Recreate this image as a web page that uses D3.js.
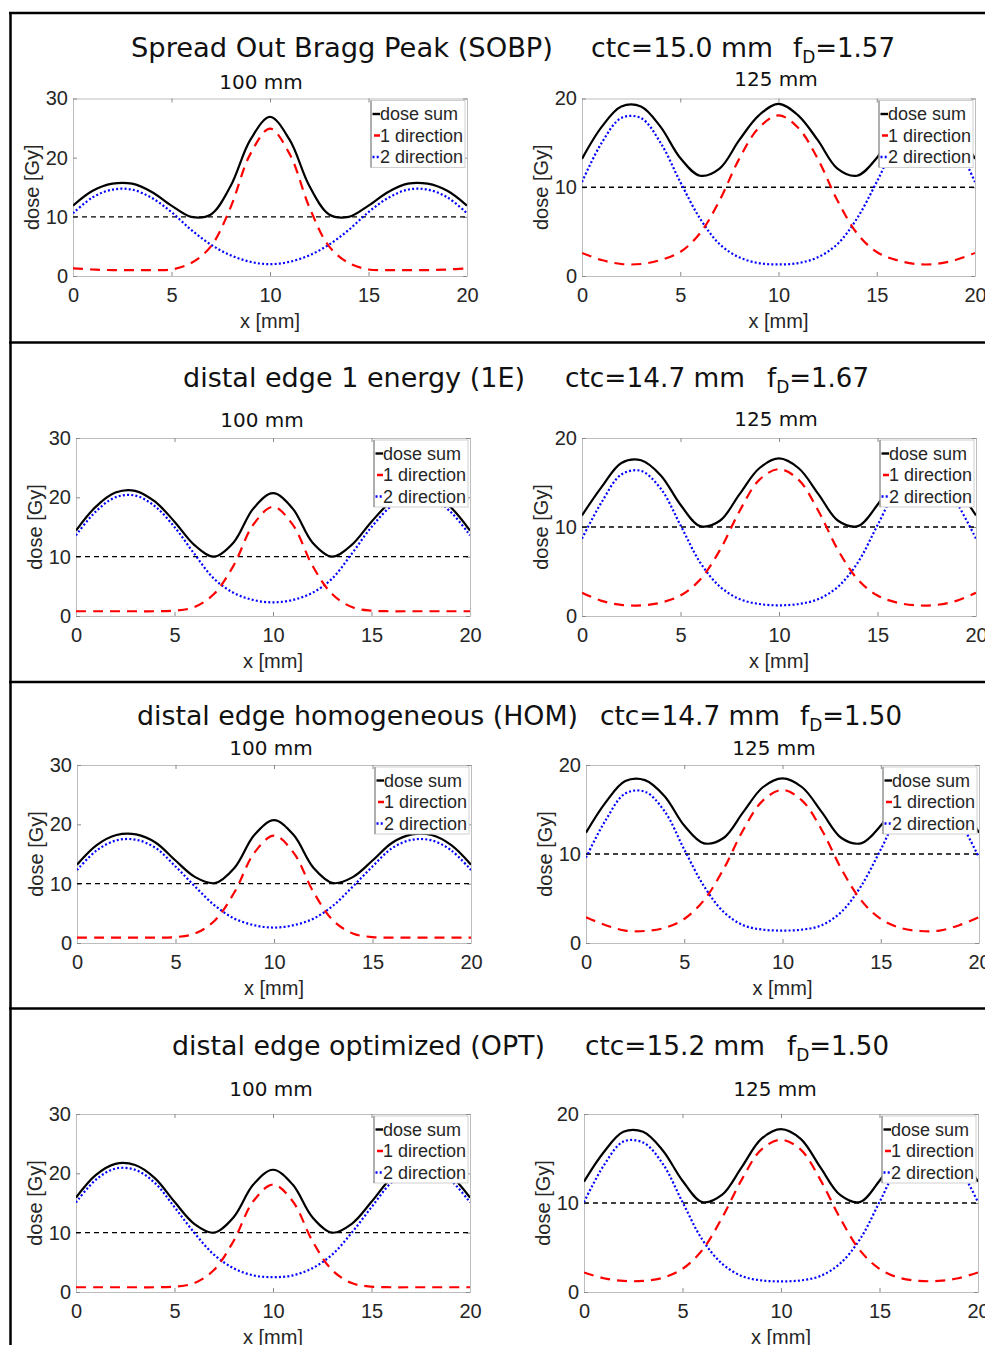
<!DOCTYPE html>
<html>
<head>
<meta charset="utf-8">
<script src="https://cdn.jsdelivr.net/npm/d3@7"></script>
<style>
body { margin: 0; background: #fff; }
svg text { font-family: "Liberation Sans", Arial, sans-serif; fill: #262626; }
svg text.ttl { font-family: "DejaVu Sans", Verdana, sans-serif; fill: #111; }
</style>
</head>
<body>
<svg id="fig" width="985" height="1345"></svg>
<script>
// x positions (mm) where the profiles were read
var xPos = [0,1,2,3,4,5,6,7,8,9,10,11,12,13,14,15,16,17,18,19,20]
var xTicks = [0,5,10,15,20]
var yTicks100 = [0,10,20,30]
var yTicks125 = [0,10,20]
var refDose = 10

var titles = ["Spread Out Bragg Peak (SOBP)", "distal edge 1 energy (1E)", "distal edge homogeneous (HOM)", "distal edge optimized (OPT)"]
var ctcValues = ["15.0", "14.7", "14.7", "15.2"]
var fdValues = ["1.57", "1.67", "1.50", "1.50"]
var depthLabels = ["100 mm", "125 mm"]
var legendLabels = ["dose sum", "1 direction", "2 direction"]

// SOBP
var sobp100Sum  = [11.9,14.4,15.6,15.6,14.2,11.9,10.0,10.4,15.2,23.0,26.9,23.0,15.2,10.4,10.0,11.9,14.2,15.6,15.6,14.4,11.9]
var sobp100Dir1 = [1.3,1.1,1.0,1.0,1.0,1.1,2.2,5.0,11.6,20.6,24.9,20.6,11.6,5.0,2.2,1.1,1.0,1.0,1.0,1.1,1.3]
var sobp100Dir2 = [10.6,13.3,14.6,14.6,13.2,10.8,7.8,5.3,3.5,2.4,2.0,2.4,3.5,5.3,7.8,10.8,13.2,14.6,14.6,13.3,10.6]
var sobp125Sum  = [13.2,16.8,19.1,19.1,16.8,13.3,11.3,12.1,15.3,18.1,19.4,18.1,15.3,12.1,11.3,13.3,16.8,19.1,19.1,16.8,13.2]
var sobp125Dir1 = [2.6,1.8,1.35,1.35,1.8,2.7,4.8,8.5,13.2,16.7,18.1,16.7,13.2,8.5,4.8,2.7,1.8,1.35,1.35,1.8,2.6]
var sobp125Dir2 = [10.6,15.0,17.8,17.8,15.0,10.6,6.5,3.6,2.1,1.45,1.3,1.45,2.1,3.6,6.5,10.6,15.0,17.8,17.8,15.0,10.6]
// 1E
var e1100Sum  = [14.4,18.4,20.8,21.1,19.3,15.9,12.0,10.0,12.4,18.1,20.7,18.1,12.4,10.0,12.0,15.9,19.3,21.1,20.8,18.4,14.4]
var e1100Dir1 = [0.8,0.8,0.8,0.8,0.8,0.9,1.5,3.7,8.5,15.4,18.4,15.4,8.5,3.7,1.5,0.9,0.8,0.8,0.8,0.8,0.8]
var e1100Dir2 = [13.6,17.6,20.0,20.3,18.5,15.0,10.5,6.3,3.9,2.7,2.3,2.7,3.9,6.3,10.5,15.0,18.5,20.3,20.0,17.6,13.6]
var e1125Sum  = [11.3,14.5,17.2,17.5,15.8,12.5,10.1,10.7,13.7,16.6,17.7,16.6,13.7,10.7,10.1,12.5,15.8,17.5,17.2,14.5,11.3]
var e1125Dir1 = [2.6,1.7,1.25,1.2,1.5,2.3,4.1,7.4,11.8,15.3,16.5,15.3,11.8,7.4,4.1,2.3,1.5,1.2,1.25,1.7,2.6]
var e1125Dir2 = [8.7,12.8,15.9,16.3,14.3,10.2,6.0,3.3,1.9,1.35,1.2,1.35,1.9,3.3,6.0,10.2,14.3,16.3,15.9,12.8,8.7]
// HOM
var hom100Sum  = [13.2,16.5,18.2,18.3,16.9,13.9,11.1,10.1,12.7,18.2,20.7,18.2,12.7,10.1,11.1,13.9,16.9,18.3,18.2,16.5,13.2]
var hom100Dir1 = [0.9,0.9,0.9,0.9,0.9,1.0,1.6,3.8,8.6,15.2,18.1,15.2,8.6,3.8,1.6,1.0,0.9,0.9,0.9,0.9,0.9]
var hom100Dir2 = [12.3,15.6,17.3,17.4,16.0,12.9,9.5,6.3,4.1,3.0,2.6,3.0,4.1,6.3,9.5,12.9,16.0,17.4,17.3,15.6,12.3]
var hom125Sum  = [12.4,15.8,18.2,18.3,16.5,13.2,11.2,11.8,14.7,17.5,18.5,17.5,14.7,11.8,11.2,13.2,16.5,18.3,18.2,15.8,12.4]
var hom125Dir1 = [2.9,2.0,1.4,1.35,1.7,2.7,4.8,8.3,12.7,16.0,17.2,16.0,12.7,8.3,4.8,2.7,1.7,1.35,1.4,2.0,2.9]
var hom125Dir2 = [9.6,13.8,16.8,17.0,14.8,10.5,6.4,3.5,2.0,1.5,1.4,1.5,2.0,3.5,6.4,10.5,14.8,17.0,16.8,13.8,9.6]
// OPT
var opt100Sum  = [15.9,19.7,21.6,21.4,19.2,15.2,11.5,10.0,12.6,18.1,20.6,18.1,12.6,10.0,11.5,15.2,19.2,21.4,21.6,19.7,15.9]
var opt100Dir1 = [0.8,0.8,0.8,0.8,0.8,0.9,1.5,3.7,8.6,15.3,18.1,15.3,8.6,3.7,1.5,0.9,0.8,0.8,0.8,0.8,0.8]
var opt100Dir2 = [15.1,18.9,20.8,20.6,18.4,14.3,10.0,6.3,4.0,2.8,2.5,2.8,4.0,6.3,10.0,14.3,18.4,20.6,20.8,18.9,15.1]
var opt125Sum  = [12.4,15.7,18.0,18.0,15.9,12.5,10.1,10.9,14.0,17.2,18.3,17.2,14.0,10.9,10.1,12.5,15.9,18.0,18.0,15.7,12.4]
var opt125Dir1 = [2.2,1.55,1.25,1.25,1.6,2.6,4.7,8.3,12.6,16.0,17.1,16.0,12.6,8.3,4.7,2.6,1.6,1.25,1.25,1.55,2.2]
var opt125Dir2 = [10.1,14.2,16.9,16.8,14.4,10.1,5.9,3.2,1.8,1.3,1.2,1.3,1.8,3.2,5.9,10.1,14.4,16.8,16.9,14.2,10.1]

var panelSeries = [
    [[sobp100Sum, sobp100Dir1, sobp100Dir2], [sobp125Sum, sobp125Dir1, sobp125Dir2]],
    [[e1100Sum, e1100Dir1, e1100Dir2], [e1125Sum, e1125Dir1, e1125Dir2]],
    [[hom100Sum, hom100Dir1, hom100Dir2], [hom125Sum, hom125Dir1, hom125Dir2]],
    [[opt100Sum, opt100Dir1, opt100Dir2], [opt125Sum, opt125Dir1, opt125Dir2]]
]

// layout of each row (pixels)
var rows = [
    {titleY: 57, titleX: [131, 591, 793], titleW: [422, 182], top: 98.5, bottom: 276,
     axes: [{x0: 73, x1: 467, subX: 261, subY: 89}, {x0: 582, x1: 975, subX: 776, subY: 86}]},
    {titleY: 387, titleX: [183, 565, 767], titleW: [342, 180], top: 438, bottom: 616,
     axes: [{x0: 76, x1: 470, subX: 262, subY: 427}, {x0: 582, x1: 976, subX: 776, subY: 426}]},
    {titleY: 725, titleX: [137, 600, 800], titleW: [441, 180], top: 765, bottom: 943,
     axes: [{x0: 77, x1: 471, subX: 271, subY: 755}, {x0: 586, x1: 979, subX: 774, subY: 755}]},
    {titleY: 1055, titleX: [172, 585, 787], titleW: [373, 180], top: 1114, bottom: 1292,
     axes: [{x0: 76, x1: 470, subX: 271, subY: 1096}, {x0: 584, x1: 978, subX: 775, subY: 1096}]}
]
var separators = [13, 342.5, 682, 1008.5]

var svg = d3.select("#fig")
var lineColors = ["#000", "#ff0000", "#0000ff"]
var lineDash = [null, "10,7", "2,2.2"]

// outer frame
separators.forEach(function (y) {
    svg.append("line").attr("x1", 9).attr("x2", 985).attr("y1", y).attr("y2", y)
        .attr("stroke", "#000").attr("stroke-width", 2.5)
})
svg.append("line").attr("x1", 10.5).attr("x2", 10.5).attr("y1", 12).attr("y2", 1345)
    .attr("stroke", "#000").attr("stroke-width", 2.5)

rows.forEach(function (row, r) {
    // row title
    svg.append("text").attr("class", "ttl").attr("x", row.titleX[0]).attr("y", row.titleY)
        .attr("font-size", 26).attr("textLength", row.titleW[0]).attr("lengthAdjust", "spacingAndGlyphs")
        .text(titles[r])
    svg.append("text").attr("class", "ttl").attr("x", row.titleX[1]).attr("y", row.titleY)
        .attr("font-size", 26).attr("textLength", row.titleW[1]).attr("lengthAdjust", "spacingAndGlyphs")
        .text("ctc=" + ctcValues[r] + " mm")
    var fd = svg.append("text").attr("class", "ttl").attr("x", row.titleX[2]).attr("y", row.titleY)
        .attr("font-size", 26)
    fd.append("tspan").text("f")
    fd.append("tspan").attr("font-size", 17).attr("dy", 6).text("D")
    fd.append("tspan").attr("dy", -6).text("=" + fdValues[r])

    row.axes.forEach(function (ax, s) {
        var yMax = s === 0 ? 30 : 20
        var yTicks = s === 0 ? yTicks100 : yTicks125
        var x = d3.scaleLinear().domain([0, 20]).range([ax.x0, ax.x1])
        var y = d3.scaleLinear().domain([0, yMax]).range([row.bottom, row.top])
        var g = svg.append("g")
        var clipId = "clip" + r + "_" + s
        g.append("clipPath").attr("id", clipId).append("rect")
            .attr("x", ax.x0).attr("y", row.top).attr("width", ax.x1 - ax.x0).attr("height", row.bottom - row.top)

        // axes
        var gx = g.append("g").attr("transform", "translate(0," + row.bottom + ")")
            .call(d3.axisBottom(x).tickValues(xTicks).tickSizeInner(-4).tickSizeOuter(0).tickPadding(12))
        var gxt = g.append("g").attr("transform", "translate(0," + row.top + ")")
            .call(d3.axisTop(x).tickValues(xTicks).tickSizeInner(-4).tickSizeOuter(0).tickFormat(""))
        var gy = g.append("g").attr("transform", "translate(" + ax.x0 + ",0)")
            .call(d3.axisLeft(y).tickValues(yTicks).tickSizeInner(-4).tickSizeOuter(0).tickPadding(5))
        var gyr = g.append("g").attr("transform", "translate(" + ax.x1 + ",0)")
            .call(d3.axisRight(y).tickValues(yTicks).tickSizeInner(-4).tickSizeOuter(0).tickFormat(""))
        ;[gx, gxt, gy, gyr].forEach(function (a) {
            a.select(".domain").attr("stroke", "#bdbdbd")
            a.selectAll(".tick line").attr("stroke", "#8a8a8a")
            a.selectAll(".tick text").attr("font-size", 20).attr("fill", "#262626")
                .style("font-family", "'Liberation Sans', Arial, sans-serif")
        })

        // labels
        g.append("text").attr("class", "ttl").attr("x", ax.subX).attr("y", ax.subY)
            .attr("text-anchor", "middle").attr("font-size", 20).text(depthLabels[s])
        g.append("text").attr("x", (ax.x0 + ax.x1) / 2).attr("y", row.bottom + 52)
            .attr("text-anchor", "middle").attr("font-size", 20).text("x [mm]")
        g.append("text").attr("transform", "translate(" + (ax.x0 - 34) + "," + ((row.top + row.bottom) / 2) + ") rotate(-90)")
            .attr("text-anchor", "middle").attr("font-size", 20).text("dose [Gy]")

        // 10 Gy reference
        g.append("line").attr("x1", x(0)).attr("x2", x(20)).attr("y1", y(refDose)).attr("y2", y(refDose))
            .attr("stroke", "#000").attr("stroke-width", 1.4).attr("stroke-dasharray", "5,4")

        // profiles
        var line = d3.line()
            .x(function (d, i) { return x(xPos[i]) })
            .y(function (d) { return y(d) })
            .curve(d3.curveCatmullRom.alpha(0.5))
        var series = panelSeries[r][s]
        ;[2, 1, 0].forEach(function (k) {
            g.append("path").datum(series[k]).attr("d", line)
                .attr("clip-path", "url(#" + clipId + ")")
                .attr("fill", "none").attr("stroke", lineColors[k])
                .attr("stroke-width", 2.2)
                .attr("stroke-dasharray", lineDash[k])
        })

        // legend
        var lx = ax.x1 - 96, ly = row.top + 2
        var lg = g.append("g")
        lg.append("rect").attr("x", lx).attr("y", ly).attr("width", 94).attr("height", 67)
            .attr("fill", "#fff").attr("stroke", "#d0d0d0").attr("stroke-width", 1)
        lg.append("line").attr("x1", lx).attr("x2", lx).attr("y1", ly).attr("y2", ly + 67)
            .attr("stroke", "#777").attr("stroke-width", 1)
        legendLabels.forEach(function (lab, k) {
            var cy = ly + 13.5 + k * 21.5
            lg.append("line").attr("x1", lx + 1.5).attr("x2", lx + 9).attr("y1", cy).attr("y2", cy)
                .attr("stroke", lineColors[k]).attr("stroke-width", 2.4)
                .attr("stroke-dasharray", k === 1 ? "0,1.5,6,2" : lineDash[k])
            lg.append("text").attr("x", lx + 9).attr("y", cy).attr("dy", "0.35em")
                .attr("font-size", 18).attr("fill", "#111").text(lab)
        })
    })
})
</script>
</body>
</html>
